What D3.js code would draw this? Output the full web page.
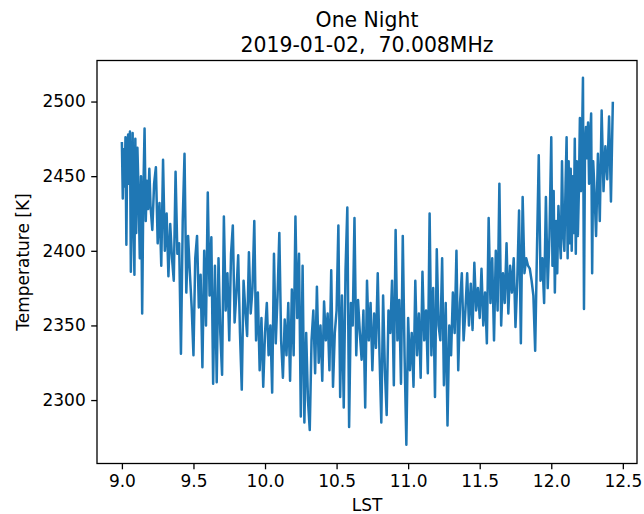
<!DOCTYPE html>
<html>
<head>
<meta charset="utf-8">
<script src="https://cdn.jsdelivr.net/npm/d3@7"></script>
<style>
  html, body { margin: 0; padding: 0; background: #fff; }
  svg { display: block; font-family: "DejaVu Sans", sans-serif; }
  text { white-space: pre; }
</style>
</head>
<body>
<svg id="chart" width="644" height="514"></svg>
<script>
// Sky temperature over one night at 70.008 MHz
const titleLines = ["One Night", "2019-01-02,  70.008MHz"];
const xLabel = "LST";
const yLabel = "Temperature [K]";
const xTicks = [9.0, 9.5, 10.0, 10.5, 11.0, 11.5, 12.0, 12.5];
const yTicks = [2300, 2350, 2400, 2450, 2500];

// LST hour at which each block of samples begins; the last block ends at lstEnd
const binStart = [9.0, 9.1, 9.2, 9.3, 9.4, 9.5, 9.6, 9.7, 9.8, 9.9,
                  10.0, 10.1, 10.2, 10.3, 10.4, 10.5, 10.6, 10.7, 10.8, 10.9,
                  11.0, 11.1, 11.2, 11.3, 11.4, 11.5, 11.6, 11.7, 11.8, 11.9,
                  12.0, 12.1, 12.2, 12.3];
const lstEnd = 12.43;

// measured temperatures [K] within each block, in time order
const temperature = [
  [2472, 2435, 2468, 2443, 2476, 2404, 2470, 2478, 2445, 2480, 2386, 2430, 2479, 2420, 2384, 2475],
  [2412, 2469, 2438, 2395, 2450, 2358, 2440, 2482, 2420, 2447, 2428, 2455],
  [2430, 2414, 2445, 2456, 2405, 2432, 2390, 2461],
  [2400, 2425, 2383, 2418, 2395, 2380, 2453, 2398],
  [2405, 2331, 2420, 2465, 2372, 2410, 2385, 2362],
  [2330, 2395, 2410, 2362, 2384, 2322, 2400, 2350],
  [2439, 2370, 2409, 2311, 2390, 2312, 2395, 2345],
  [2317, 2423, 2360, 2385, 2340, 2398, 2417, 2352],
  [2372, 2397, 2345, 2307, 2380, 2360, 2343, 2399],
  [2358, 2375, 2420, 2340, 2372, 2320, 2355, 2309],
  [2345, 2365, 2330, 2350, 2305, 2398, 2338, 2370],
  [2412, 2340, 2315, 2354, 2330, 2365, 2313, 2374],
  [2330, 2423, 2355, 2398, 2289, 2390, 2285, 2345],
  [2300, 2280, 2340, 2360, 2318, 2376, 2325, 2350],
  [2313, 2366, 2340, 2358, 2320, 2387, 2309, 2345],
  [2360, 2417, 2302, 2370, 2295, 2387, 2429, 2282],
  [2365, 2350, 2422, 2330, 2367, 2345, 2327, 2360],
  [2295, 2380, 2340, 2365, 2320, 2358, 2335, 2385],
  [2330, 2285, 2370, 2320, 2290, 2360, 2345, 2380],
  [2310, 2414, 2340, 2367, 2311, 2410, 2330, 2270],
  [2355, 2320, 2345, 2309, 2380, 2330, 2358, 2315],
  [2386, 2340, 2360, 2318, 2425, 2330, 2375, 2302],
  [2401, 2350, 2340, 2395, 2310, 2365, 2283, 2350],
  [2330, 2372, 2345, 2400, 2320, 2365, 2385, 2340],
  [2360, 2385, 2350, 2378, 2347, 2392, 2360, 2375],
  [2355, 2388, 2350, 2372, 2338, 2422, 2365, 2395],
  [2340, 2400, 2360, 2445, 2350, 2385, 2365, 2405],
  [2358, 2390, 2372, 2395, 2349, 2380, 2427, 2338],
  [2436, 2385, 2395, 2390, 2388, 2380, 2370, 2333],
  [2400, 2464, 2380, 2395, 2365, 2436, 2375, 2410],
  [2476, 2390, 2440, 2372, 2420, 2385, 2430, 2410, 2395, 2460, 2412, 2400],
  [2445, 2476, 2395, 2460, 2405, 2455, 2400, 2450, 2412, 2475, 2398, 2460, 2410, 2440],
  [2489, 2440, 2470, 2516, 2361, 2470, 2483, 2462, 2486, 2445, 2475, 2492, 2385, 2460],
  [2445, 2410, 2465, 2420, 2494, 2440, 2470, 2448, 2490, 2433, 2499]
];

// spread each block's samples evenly across its LST span
const series = [];
temperature.forEach((vals, b) => {
  const last = b === binStart.length - 1;
  const start = binStart[b];
  const end = last ? lstEnd : binStart[b + 1];
  const n = last ? vals.length - 1 : vals.length;
  vals.forEach((t, j) => series.push({ lst: start + j * (end - start) / n, t }));
});

const svg = d3.select("#chart");
const plot = { left: 97, right: 637, top: 60.5, bottom: 463.5 };

const x = d3.scaleLinear().domain([8.826, 12.599]).range([plot.left, plot.right]);
const y = d3.scaleLinear().domain([2257.5, 2527.5]).range([plot.bottom, plot.top]);

// data line
const line = d3.line().x(d => x(d.lst)).y(d => y(d.t));
svg.append("path")
  .datum(series)
  .attr("d", line)
  .attr("fill", "none")
  .attr("stroke", "#1f77b4")
  .attr("stroke-width", 2.5)
  .attr("stroke-linejoin", "round")
  .attr("stroke-linecap", "square");

// axes
const xAxis = d3.axisBottom(x).tickValues(xTicks).tickFormat(d3.format(".1f"))
  .tickSize(5.8).tickPadding(5.5).tickSizeOuter(0);
const yAxis = d3.axisLeft(y).tickValues(yTicks).tickFormat(d3.format("d"))
  .tickSize(5.8).tickPadding(5.5).tickSizeOuter(0);

const gx = svg.append("g").attr("transform", `translate(0,${plot.bottom})`).call(xAxis);
const gy = svg.append("g").attr("transform", `translate(${plot.left},0)`).call(yAxis);
[gx, gy].forEach(g => {
  g.select(".domain").remove();
  g.selectAll(".tick line").attr("stroke", "#000").attr("stroke-width", 1.3);
  g.selectAll(".tick text").attr("fill", "#000")
    .style("font-family", "'DejaVu Sans', sans-serif").style("font-size", "17px");
});

// frame
svg.append("rect")
  .attr("x", plot.left).attr("y", plot.top)
  .attr("width", plot.right - plot.left).attr("height", plot.bottom - plot.top)
  .attr("fill", "none").attr("stroke", "#000").attr("stroke-width", 1.3);

// titles and labels
const cx = (plot.left + plot.right) / 2;
svg.selectAll("text.title").data(titleLines).enter().append("text")
  .attr("class", "title")
  .attr("x", cx).attr("y", (d, i) => 27 + i * 24.5)
  .attr("text-anchor", "middle").style("font-size", "20.4px").attr("fill", "#000")
  .text(d => d);

svg.append("text")
  .attr("x", cx).attr("y", 511)
  .attr("text-anchor", "middle").style("font-size", "17px").attr("fill", "#000")
  .text(xLabel);

svg.append("text")
  .attr("transform", `translate(29,${(plot.top + plot.bottom) / 2}) rotate(-90)`)
  .attr("text-anchor", "middle").style("font-size", "17px").attr("fill", "#000")
  .text(yLabel);
</script>
</body>
</html>
